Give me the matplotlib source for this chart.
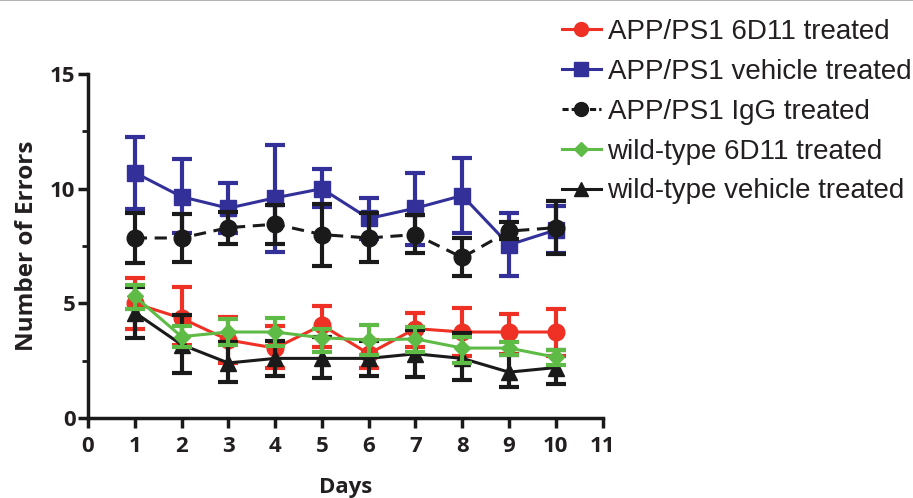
import numpy as np
import matplotlib
matplotlib.use('Agg')
from matplotlib import pyplot as plt
from matplotlib.lines import Line2D

days = np.arange(1, 11)

# mean and error bar (lower, upper) per group
app_6d11 = [5.0, 4.35, 3.4, 3.05, 4.05, 2.8, 3.9, 3.75, 3.75, 3.75]
app_6d11_lo = [3.9, 3.2, 2.4, 2.2, 3.1, 2.2, 3.1, 2.7, 2.8, 2.7]
app_6d11_hi = [6.1, 5.7, 4.4, 4.0, 4.9, 3.4, 4.6, 4.8, 4.55, 4.75]

app_veh = [10.7, 9.65, 9.15, 9.6, 10.0, 8.7, 9.15, 9.7, 7.55, 8.2]
app_veh_lo = [9.1, 8.05, 8.05, 7.25, 9.2, 7.8, 7.55, 8.05, 6.2, 7.2]
app_veh_hi = [12.25, 11.3, 10.25, 11.9, 10.85, 9.6, 10.7, 11.35, 8.95, 9.25]

app_igg = [7.85, 7.85, 8.3, 8.45, 8.0, 7.85, 8.0, 7.0, 8.15, 8.3]
app_igg_lo = [6.75, 6.8, 7.6, 7.6, 6.65, 6.8, 7.2, 6.2, 7.8, 7.15]
app_igg_hi = [8.95, 8.9, 9.0, 9.3, 9.35, 8.95, 8.85, 7.85, 8.55, 9.45]

wt_6d11 = [5.3, 3.55, 3.75, 3.75, 3.5, 3.4, 3.45, 3.05, 3.05, 2.65]
wt_6d11_lo = [4.75, 3.1, 3.2, 3.15, 2.9, 2.75, 2.9, 2.4, 2.75, 2.3]
wt_6d11_hi = [5.8, 4.0, 4.3, 4.35, 3.9, 4.05, 3.95, 3.55, 3.3, 2.95]

wt_veh = [4.6, 3.2, 2.4, 2.6, 2.6, 2.6, 2.8, 2.6, 2.0, 2.2]
wt_veh_lo = [3.5, 1.95, 1.55, 1.85, 1.75, 1.85, 1.8, 1.65, 1.35, 1.5]
wt_veh_hi = [5.7, 4.5, 3.3, 3.35, 3.55, 3.35, 3.85, 3.7, 2.75, 2.95]

labels = ['APP/PS1 6D11 treated', 'APP/PS1 vehicle treated', 'APP/PS1 IgG treated',
          'wild-type 6D11 treated', 'wild-type vehicle treated']

fig = plt.figure(figsize=(9.13, 4.98), dpi=100)
ax = fig.add_axes([0.0964, 0.1606, 0.5636, 0.6908])

series = [
    (app_veh, app_veh_lo, app_veh_hi, '#33309a', 's', '-', 11, 2),
    (app_igg, app_igg_lo, app_igg_hi, '#1a1a1a', 'o', (0, (4, 2.5)), 12, 3),
    (app_6d11, app_6d11_lo, app_6d11_hi, '#ee3124', 'o', '-', 12, 4),
    (wt_veh, wt_veh_lo, wt_veh_hi, '#1a1a1a', '^', '-', 11, 5),
    (wt_6d11, wt_6d11_lo, wt_6d11_hi, '#5dbb46', 'D', '-', 8, 6),
]
for y, lo, hi, c, m, ls, ms, z in series:
    y = np.array(y)
    err = [y - np.array(lo), np.array(hi) - y]
    eb = ax.errorbar(days, y, yerr=err, color=c, marker=m, ms=ms, lw=2.2,
                     elinewidth=3, capsize=7, capthick=3, zorder=z)
    eb[0].set_linestyle(ls)

ax.set_xlim(0, 11)
ax.set_ylim(0, 15)
ax.set_xticks(range(0, 12))
ax.set_yticks([0, 5, 10, 15])
ax.set_yticks([2.5, 7.5, 12.5], minor=True)
for s in ['top', 'right']:
    ax.spines[s].set_visible(False)
for s in ['left', 'bottom']:
    ax.spines[s].set_linewidth(2.5)
    ax.spines[s].set_color('#1a1a1a')
ax.tick_params(axis='both', which='major', width=2.5, length=7, color='#1a1a1a')
ax.tick_params(axis='x', which='major', pad=6)
ax.tick_params(axis='y', which='major', pad=2)
ax.tick_params(axis='y', which='minor', width=2, length=4, color='#1a1a1a')
for t in ax.get_xticklabels() + ax.get_yticklabels():
    t.set_fontfamily('Open Sans')
    t.set_fontweight('bold')
    t.set_fontsize(16)
    t.set_color('#231f20')
ax.set_xlabel('Days', fontfamily='Open Sans', fontweight='bold', fontsize=16,
              color='#231f20', labelpad=14)
ax.set_ylabel('Number of Errors', fontfamily='Open Sans', fontweight='bold', fontsize=17.5,
              color='#231f20', labelpad=8)

handles = [
    Line2D([], [], color='#ee3124', marker='o', ms=10, lw=2.2),
    Line2D([], [], color='#33309a', marker='s', ms=10, lw=2.2),
    Line2D([], [], color='#1a1a1a', marker='o', ms=10, lw=2.2, ls=(0, (2, 1))),
    Line2D([], [], color='#5dbb46', marker='D', ms=7, lw=2.2),
    Line2D([], [], color='#1a1a1a', marker='^', ms=10, lw=2.2),
]
leg = fig.legend(handles, labels, loc='upper left', bbox_to_anchor=(0.600, 0.99),
                 frameon=False, prop={'family': 'Liberation Sans', 'size': 20},
                 handlelength=1.4, handletextpad=0.25, labelspacing=0.5, borderpad=0)
for t in leg.get_texts():
    t.set_color('#231f20')

fig.add_artist(Line2D([0, 1], [0.999, 0.999], color='#b4b4b4', lw=1.5,
                      transform=fig.transFigure))

fig.savefig('out.png', dpi=100)
